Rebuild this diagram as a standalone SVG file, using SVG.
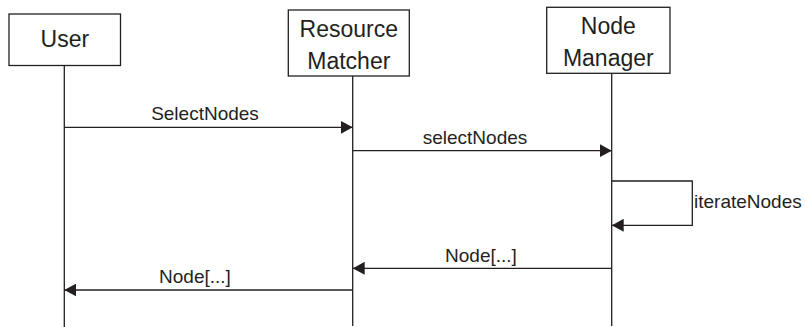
<svg xmlns="http://www.w3.org/2000/svg" width="805" height="327" viewBox="0 0 805 327">
<style>
.box{fill:#fff;stroke:#231f20;stroke-width:1.3}
.life{stroke:#231f20;stroke-width:1.3;fill:none}
.msg{stroke:#231f20;stroke-width:1.3;fill:none;marker-end:url(#arr)}
.head{font-family:"Liberation Sans",Arial,sans-serif;font-size:23px;fill:#231f20;text-anchor:middle}
.lbl{font-family:"Liberation Sans",Arial,sans-serif;font-size:19px;fill:#231f20;text-anchor:middle}
</style>
<defs>
<marker id="arr" markerUnits="userSpaceOnUse" markerWidth="12" markerHeight="13" refX="12" refY="6.5" orient="auto">
<path d="M0,0 L12,6.5 L0,13 z" fill="#231f20"/>
</marker>
</defs>
<g id="user">
<rect class="box" x="9" y="14" width="111.5" height="51.5"/>
<text class="head" x="64.8" y="46.5">User</text>
</g>
<g id="resource-matcher">
<rect class="box" x="288.3" y="10" width="121" height="66"/>
<text class="head" x="348.8" y="36.5">Resource</text>
<text class="head" x="348.8" y="68.5">Matcher</text>
</g>
<g id="node-manager">
<rect class="box" x="546.7" y="7.3" width="123.3" height="66"/>
<text class="head" x="608.3" y="33.5">Node</text>
<text class="head" x="608.3" y="65.5">Manager</text>
</g>
<g id="connectors">
<line class="life" x1="64.3" y1="65.5" x2="64.3" y2="327"/>
<line class="life" x1="352.7" y1="76" x2="352.7" y2="326"/>
<line class="life" x1="611.7" y1="73.3" x2="611.7" y2="326"/>
<line class="msg" x1="64.3" y1="127.3" x2="352.7" y2="127.3"/>
<text class="lbl" x="205" y="120">SelectNodes</text>
<line class="msg" x1="352.7" y1="150.7" x2="611.7" y2="150.7"/>
<text class="lbl" x="475" y="144">selectNodes</text>
<polyline class="msg" points="611.7,181 692.3,181 692.3,225.3 611.7,225.3"/>
<text class="lbl" x="694" y="207.5" style="text-anchor:start">iterateNodes</text>
<line class="msg" x1="611.7" y1="268.3" x2="352.7" y2="268.3"/>
<text class="lbl" x="481" y="262">Node[...]</text>
<line class="msg" x1="352.7" y1="290" x2="64.3" y2="290"/>
<text class="lbl" x="195" y="282.7">Node[...]</text>
</g>
</svg>
